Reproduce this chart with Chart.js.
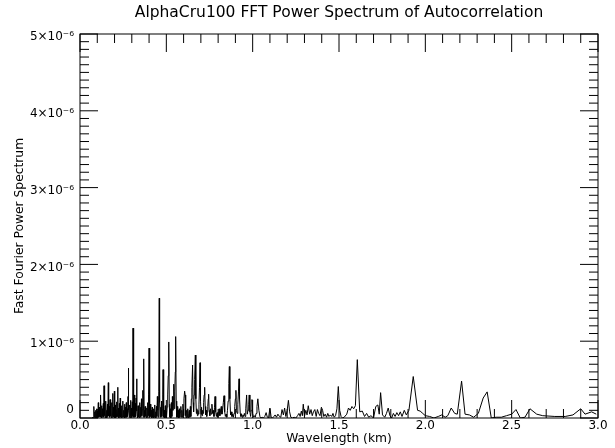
<!DOCTYPE html>
<html>
<head>
<meta charset="utf-8">
<script src="https://cdn.jsdelivr.net/npm/chart.js@4.4.1/dist/chart.umd.min.js"></script>
<style>
  html, body { margin: 0; padding: 0; background: #fff; }
  canvas { display: block; }
</style>
</head>
<body>
<canvas id="fftChart" width="615" height="448"></canvas>
<script>
// wavelength in km
const wavelength = [
  0.070, 0.073, 0.076, 0.079, 0.081, 0.083, 0.086, 0.088, 0.091, 0.093,
  0.096, 0.098, 0.101, 0.103, 0.106, 0.108, 0.111, 0.113, 0.116, 0.118,
  0.120, 0.122, 0.125, 0.127, 0.130, 0.132, 0.135, 0.137, 0.139, 0.141,
  0.144, 0.146, 0.149, 0.151, 0.154, 0.156, 0.159, 0.161, 0.164, 0.166,
  0.169, 0.171, 0.174, 0.176, 0.179, 0.181, 0.184, 0.186, 0.189, 0.191,
  0.194, 0.196, 0.199, 0.201, 0.204, 0.206, 0.209, 0.211, 0.214, 0.216,
  0.218, 0.220, 0.223, 0.225, 0.228, 0.230, 0.233, 0.235, 0.238, 0.240,
  0.243, 0.245, 0.248, 0.250, 0.253, 0.255, 0.258, 0.260, 0.263, 0.265,
  0.268, 0.270, 0.273, 0.275, 0.278, 0.280, 0.282, 0.285, 0.288, 0.290,
  0.293, 0.295, 0.298, 0.300, 0.303, 0.305, 0.307, 0.309, 0.312, 0.315,
  0.317, 0.320, 0.322, 0.325, 0.328, 0.330, 0.333, 0.336, 0.338, 0.341,
  0.343, 0.346, 0.348, 0.351, 0.353, 0.356, 0.358, 0.361, 0.364, 0.366,
  0.369, 0.371, 0.374, 0.377, 0.379, 0.382, 0.384, 0.387, 0.389, 0.392,
  0.394, 0.397, 0.400, 0.402, 0.405, 0.408, 0.410, 0.413, 0.415, 0.418,
  0.420, 0.423, 0.425, 0.428, 0.430, 0.433, 0.435, 0.438, 0.440, 0.443,
  0.445, 0.448, 0.451, 0.453, 0.456, 0.459, 0.461, 0.464, 0.467, 0.469,
  0.472, 0.474, 0.477, 0.479, 0.481, 0.483, 0.486, 0.489, 0.491, 0.494,
  0.496, 0.499, 0.501, 0.505, 0.508, 0.511, 0.514, 0.517, 0.520, 0.523,
  0.526, 0.529, 0.532, 0.535, 0.538, 0.541, 0.543, 0.546, 0.549, 0.552,
  0.554, 0.557, 0.560, 0.563, 0.566, 0.569, 0.572, 0.575, 0.578, 0.581,
  0.584, 0.587, 0.590, 0.593, 0.596, 0.599, 0.602, 0.606, 0.609, 0.612,
  0.615, 0.618, 0.621, 0.624, 0.627, 0.630, 0.633, 0.636, 0.639, 0.642,
  0.645, 0.648, 0.652, 0.655, 0.658, 0.661, 0.664, 0.668, 0.671, 0.674,
  0.677, 0.680, 0.683, 0.686, 0.689, 0.692, 0.695, 0.698, 0.701, 0.704,
  0.707, 0.710, 0.713, 0.716, 0.719, 0.722, 0.725, 0.728, 0.731, 0.734,
  0.737, 0.740, 0.743, 0.745, 0.748, 0.752, 0.756, 0.760, 0.764, 0.768,
  0.772, 0.776, 0.779, 0.782, 0.786, 0.790, 0.794, 0.798, 0.802, 0.806,
  0.810, 0.814, 0.818, 0.822, 0.826, 0.830, 0.834, 0.838, 0.842, 0.846,
  0.850, 0.854, 0.858, 0.862, 0.865, 0.868, 0.872, 0.876, 0.880, 0.884,
  0.888, 0.892, 0.896, 0.900, 0.903, 0.906, 0.910, 0.914, 0.918, 0.921,
  0.924, 0.928, 0.932, 0.936, 0.940, 0.944, 0.948, 0.952, 0.956, 0.960,
  0.965, 0.969, 0.973, 0.977, 0.980, 0.984, 0.988, 0.992, 0.996, 1.000,
  1.005, 1.010, 1.015, 1.020, 1.025, 1.030, 1.036, 1.042, 1.048, 1.055,
  1.062, 1.070, 1.078, 1.085, 1.092, 1.100, 1.107, 1.115, 1.123, 1.130,
  1.138, 1.146, 1.155, 1.163, 1.170, 1.178, 1.185, 1.192, 1.200, 1.207,
  1.214, 1.221, 1.230, 1.240, 1.250, 1.260, 1.268, 1.275, 1.282, 1.288,
  1.293, 1.300, 1.308, 1.315, 1.322, 1.330, 1.338, 1.345, 1.352, 1.360,
  1.368, 1.375, 1.382, 1.390, 1.398, 1.405, 1.412, 1.420, 1.428, 1.435,
  1.442, 1.450, 1.458, 1.465, 1.472, 1.480, 1.488, 1.496, 1.504, 1.512,
  1.520, 1.530, 1.545, 1.555, 1.565, 1.575, 1.585, 1.595, 1.606, 1.620,
  1.635, 1.648, 1.660, 1.672, 1.685, 1.700, 1.713, 1.725, 1.733, 1.741,
  1.752, 1.765, 1.775, 1.785, 1.795, 1.805, 1.815, 1.825, 1.835, 1.845,
  1.855, 1.865, 1.878, 1.890, 1.905, 1.930, 1.955, 1.970, 1.985, 2.000,
  2.025, 2.050, 2.075, 2.095, 2.115, 2.130, 2.150, 2.170, 2.185, 2.210,
  2.230, 2.255, 2.280, 2.307, 2.335, 2.358, 2.382, 2.410, 2.440, 2.470,
  2.500, 2.525, 2.550, 2.577, 2.606, 2.645, 2.680, 2.750, 2.810, 2.855,
  2.900, 2.925, 2.963, 2.990
];

// power spectrum, in units of 1e-6
const powerE6 = [
  0.00, 0.01, 0.00, 0.04, 0.15, 0.01, 0.08, 0.00, 0.10, 0.01,
  0.12, 0.00, 0.09, 0.01, 0.20, 0.01, 0.14, 0.02, 0.11, 0.01,
  0.30, 0.02, 0.16, 0.00, 0.12, 0.02, 0.19, 0.01, 0.42, 0.03,
  0.13, 0.00, 0.22, 0.02, 0.10, 0.00, 0.18, 0.02, 0.46, 0.03,
  0.15, 0.01, 0.24, 0.02, 0.12, 0.00, 0.20, 0.01, 0.32, 0.03,
  0.14, 0.01, 0.35, 0.02, 0.17, 0.00, 0.11, 0.01, 0.21, 0.02,
  0.40, 0.02, 0.13, 0.00, 0.19, 0.02, 0.26, 0.01, 0.12, 0.00,
  0.16, 0.01, 0.22, 0.01, 0.10, 0.02, 0.18, 0.00, 0.14, 0.01,
  0.20, 0.01, 0.12, 0.02, 0.28, 0.65, 0.10, 0.01, 0.17, 0.00,
  0.23, 0.02, 0.13, 0.01, 0.21, 0.03, 1.17, 0.12, 0.01, 0.30,
  0.01, 0.19, 0.02, 0.26, 0.51, 0.09, 0.00, 0.16, 0.01, 0.12,
  0.00, 0.20, 0.02, 0.14, 0.01, 0.25, 0.03, 0.11, 0.36, 0.01,
  0.77, 0.10, 0.01, 0.15, 0.02, 0.09, 0.00, 0.13, 0.01, 0.20,
  0.03, 0.30, 0.91, 0.12, 0.01, 0.18, 0.02, 0.10, 0.00, 0.14,
  0.01, 0.09, 0.00, 0.12, 0.01, 0.17, 0.01, 0.08, 0.00, 0.15,
  0.02, 0.28, 0.10, 0.01, 0.35, 1.56, 0.20, 0.02, 0.14, 0.01,
  0.22, 0.02, 0.12, 0.30, 0.63, 0.15, 0.01, 0.10, 0.00, 0.16,
  0.01, 0.09, 0.00, 0.14, 0.30, 0.55, 0.99, 0.18, 0.01, 0.12,
  0.00, 0.20, 0.02, 0.28, 0.10, 0.20, 0.44, 0.12, 0.35, 0.60,
  1.06, 0.22, 0.01, 0.15, 0.01, 0.10, 0.00, 0.12, 0.01, 0.08,
  0.15, 0.01, 0.10, 0.01, 0.18, 0.03, 0.25, 0.35, 0.30, 0.03,
  0.00, 0.10, 0.01, 0.12, 0.00, 0.06, 0.10, 0.01, 0.15, 0.02,
  0.25, 0.40, 0.69, 0.20, 0.08, 0.30, 0.50, 0.82, 0.25, 0.06,
  0.12, 0.03, 0.10, 0.05, 0.18, 0.40, 0.72, 0.22, 0.05, 0.14,
  0.03, 0.10, 0.06, 0.20, 0.30, 0.40, 0.15, 0.04, 0.10, 0.02,
  0.08, 0.15, 0.25, 0.31, 0.10, 0.03, 0.12, 0.05, 0.18, 0.06,
  0.10, 0.02, 0.14, 0.28, 0.08, 0.02, 0.07, 0.01, 0.06, 0.12,
  0.03, 0.09, 0.15, 0.05, 0.10, 0.20, 0.29, 0.08, 0.02, 0.05,
  0.01, 0.10, 0.22, 0.45, 0.67, 0.25, 0.04, 0.08, 0.02, 0.05,
  0.01, 0.06, 0.15, 0.25, 0.36, 0.10, 0.06, 0.18, 0.35, 0.51,
  0.25, 0.06, 0.02, 0.05, 0.01, 0.04, 0.02, 0.06, 0.02, 0.12,
  0.30, 0.05, 0.10, 0.18, 0.30, 0.08, 0.02, 0.10, 0.24, 0.06,
  0.01, 0.03, 0.01, 0.06, 0.15, 0.25, 0.10, 0.02, 0.00, 0.01,
  0.00, 0.02, 0.07, 0.01, 0.00, 0.13, 0.01, 0.00, 0.02, 0.04,
  0.01, 0.05, 0.02, 0.01, 0.11, 0.04, 0.13, 0.02, 0.10, 0.23,
  0.08, 0.01, 0.00, 0.01, 0.00, 0.03, 0.06, 0.02, 0.09, 0.03,
  0.18, 0.02, 0.10, 0.04, 0.16, 0.05, 0.11, 0.03, 0.08, 0.11,
  0.02, 0.11, 0.06, 0.03, 0.14, 0.10, 0.02, 0.05, 0.01, 0.06,
  0.02, 0.04, 0.02, 0.06, 0.01, 0.03, 0.12, 0.41, 0.10, 0.02,
  0.00, 0.01, 0.05, 0.13, 0.10, 0.15, 0.12, 0.16, 0.76, 0.08,
  0.09, 0.02, 0.06, 0.01, 0.03, 0.00, 0.15, 0.17, 0.05, 0.33,
  0.04, 0.01, 0.06, 0.13, 0.03, 0.00, 0.06, 0.02, 0.07, 0.03,
  0.08, 0.02, 0.10, 0.04, 0.10, 0.54, 0.10, 0.09, 0.06, 0.03,
  0.02, 0.00, 0.02, 0.04, 0.01, 0.03, 0.13, 0.06, 0.05, 0.48,
  0.05, 0.04, 0.01, 0.06, 0.26, 0.34, 0.00, 0.01, 0.01, 0.03,
  0.05, 0.11, 0.00, 0.01, 0.12, 0.05, 0.03, 0.02, 0.02, 0.04,
  0.12, 0.05, 0.08, 0.05
];

const chartTitle = 'AlphaCru100 FFT Power Spectrum of Autocorrelation';
const xTickLabels = ['0.0', '0.5', '1.0', '1.5', '2.0', '2.5', '3.0'];
const yTickLabels = ['0', '1×10⁻⁶', '2×10⁻⁶', '3×10⁻⁶', '4×10⁻⁶', '5×10⁻⁶'];

Chart.defaults.font.family = 'DejaVu Sans';
Chart.defaults.color = '#000';

// IDL style box with inward ticks on all four sides, title centred on the plot
const boxTicks = {
  id: 'boxTicks',
  afterDraw(chart) {
    const { ctx, chartArea: a, scales: { x, y } } = chart;
    ctx.save();
    ctx.strokeStyle = '#000';
    ctx.lineWidth = 1;
    ctx.strokeRect(a.left, a.top, a.right - a.left, a.bottom - a.top);
    ctx.beginPath();
    for (let i = 0; i <= 30; i++) {
      const px = x.getPixelForValue(i / 10);
      const len = i % 5 === 0 ? 18 : 9;
      ctx.moveTo(px, a.bottom); ctx.lineTo(px, a.bottom - len);
      ctx.moveTo(px, a.top); ctx.lineTo(px, a.top + len);
    }
    for (let i = 0; i <= 50; i++) {
      const py = y.getPixelForValue(i / 10);
      const len = i % 10 === 0 ? 18 : 9;
      ctx.moveTo(a.left, py); ctx.lineTo(a.left + len, py);
      ctx.moveTo(a.right, py); ctx.lineTo(a.right - len, py);
    }
    ctx.stroke();

    ctx.fillStyle = '#000';
    ctx.font = '15.5px "DejaVu Sans"';
    ctx.textAlign = 'center';
    ctx.textBaseline = 'middle';
    ctx.fillText(chartTitle, (a.left + a.right) / 2, 13);

    // the zero label sits above its tick, as in IDL output
    ctx.font = '12px "DejaVu Sans"';
    ctx.textAlign = 'right';
    ctx.fillText(yTickLabels[0], a.left - 6, y.getPixelForValue(0) - 8);
    ctx.restore();
  }
};

const points = wavelength.map((w, i) => ({ x: w, y: powerE6[i] }));

new Chart(document.getElementById('fftChart'), {
  type: 'line',
  data: {
    datasets: [{
      data: points,
      borderColor: '#000',
      borderWidth: 1,
      pointRadius: 0,
      tension: 0,
      fill: false
    }]
  },
  options: {
    responsive: false,
    animation: false,
    layout: { padding: { left: 0, right: 17, top: 34, bottom: 0 } },
    plugins: {
      legend: { display: false },
      tooltip: { enabled: false },
      title: { display: false }
    },
    scales: {
      x: {
        type: 'linear',
        min: 0,
        max: 3,
        grid: { display: false, drawTicks: false },
        border: { display: false },
        ticks: {
          stepSize: 0.5,
          padding: 1,
          maxRotation: 0,
          font: { size: 12 },
          callback: (v) => xTickLabels[Math.round(v * 2)]
        },
        title: {
          display: true,
          text: 'Wavelength (km)',
          font: { size: 12.3 },
          padding: { top: 0, bottom: 2 }
        },
        afterFit: (s) => { s.height = 30; }
      },
      y: {
        type: 'linear',
        min: 0,
        max: 5,
        grid: { display: false, drawTicks: false },
        border: { display: false },
        ticks: {
          stepSize: 1,
          padding: 6,
          labelOffset: 3,
          font: { size: 12 },
          // zero label is drawn by the plugin instead
          color: (c) => c.tick && c.tick.value === 0 ? 'rgba(0,0,0,0)' : '#000',
          callback: (v) => yTickLabels[v]
        },
        title: {
          display: true,
          text: 'Fast Fourier Power Spectrum',
          font: { size: 12.3 },
          padding: { top: 12, bottom: 0 }
        },
        afterFit: (s) => { s.width = 80; }
      }
    }
  },
  plugins: [boxTicks]
});
</script>
</body>
</html>
